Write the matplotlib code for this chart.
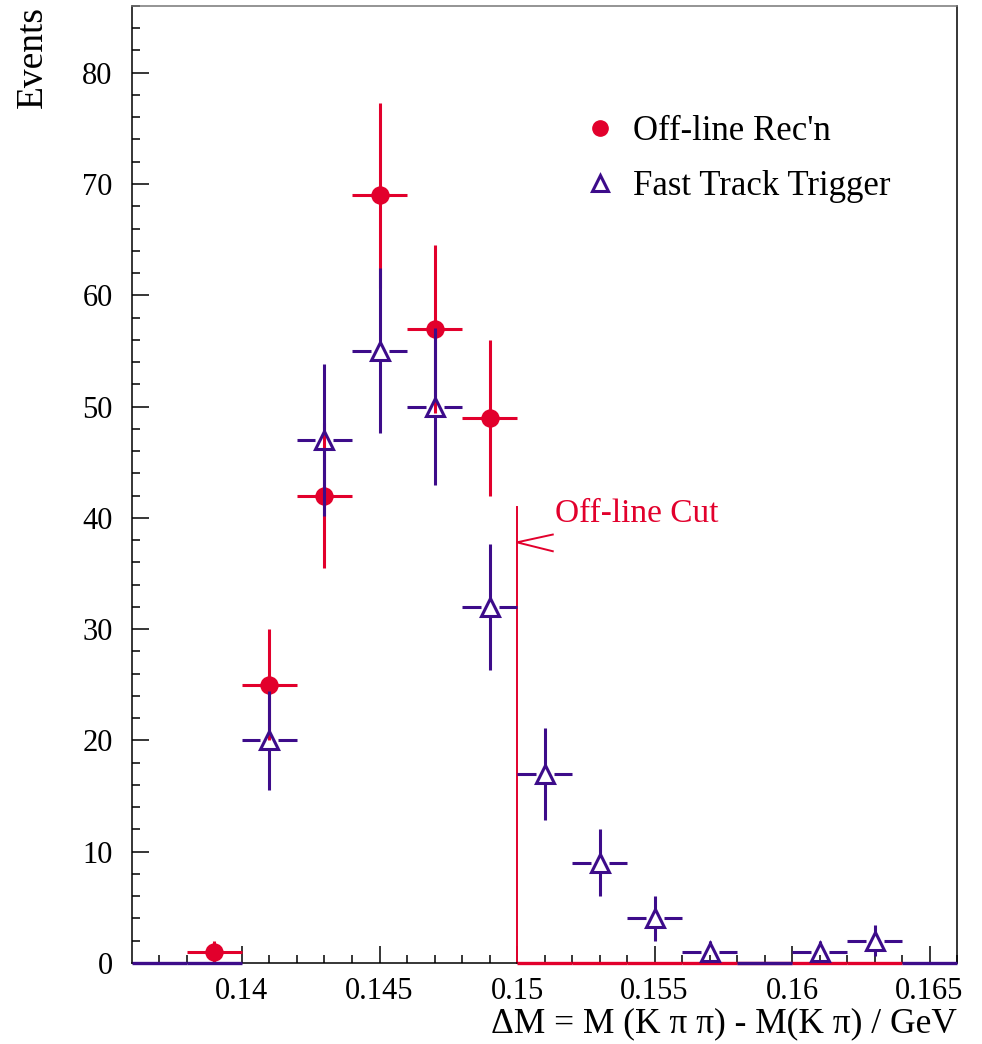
import numpy as np
import matplotlib.pyplot as plt

# bin centres (bin width 0.002 GeV)
bin_centers = [0.137, 0.139, 0.141, 0.143, 0.145, 0.147, 0.149, 0.151,
               0.153, 0.155, 0.157, 0.159, 0.161, 0.163, 0.165]
bin_width = 0.002

# event counts (None = bin not drawn)
offline = [None, 1, 25, 42, 69, 57, 49, 0, 0, 0, 0, 0, 0, 0, None]
ftt = [0, 0, 20, 47, 55, 50, 32, 17, 9, 4, 1, 0, 1, 2, 0]

cut_value = 0.15
cut_height = 41

red = '#e2002c'
purple = '#3d0c8a'

plt.rcParams['font.family'] = ['Liberation Serif', 'DejaVu Serif']

fig = plt.figure(figsize=(9.82, 10.44), dpi=100)
ax = fig.add_axes([0.1344, 0.0776, 0.8402, 0.9167])
xmin, xmax, ymin, ymax = 0.136, 0.166, 0, 86
ax.set_xlim(xmin, xmax)
ax.set_ylim(ymin, ymax)

# pixel -> data conversion for the gaps around hollow markers
ax_w = fig.get_figwidth() * fig.dpi * 0.8402
ax_h = fig.get_figheight() * fig.dpi * 0.9167
dx_px = (xmax - xmin) / ax_w
dy_px = (ymax - ymin) / ax_h


def draw_points(values, color, marker, ms, mfc, gap_px, z):
    for xc, v in zip(bin_centers, values):
        if v is None:
            continue
        lo, hi = xc - bin_width / 2, xc + bin_width / 2
        if v == 0:
            ax.plot([lo, hi], [0, 0], color=color, lw=2.4, zorder=z,
                    clip_on=False, solid_capstyle='butt')
            continue
        err = np.sqrt(v)
        gx = gap_px * dx_px
        gy = gap_px * dy_px
        ax.plot([lo, xc - gx], [v, v], color=color, lw=2.2, zorder=z,
                solid_capstyle='butt')
        ax.plot([xc + gx, hi], [v, v], color=color, lw=2.2, zorder=z,
                solid_capstyle='butt')
        ax.plot([xc, xc], [v - err, v - gy], color=color, lw=2.2, zorder=z,
                solid_capstyle='butt')
        ax.plot([xc, xc], [v + gy, v + err], color=color, lw=2.2, zorder=z,
                solid_capstyle='butt')
        ax.plot([xc], [v], marker=marker, ms=ms, mfc=mfc, mec=color,
                mew=2.2, color=color, zorder=z + 0.5, linestyle='none')


draw_points(offline, red, 'o', 11, red, 0, 3)
draw_points(ftt, purple, '^', 13, 'none', 9, 4)

# off-line cut
ax.plot([cut_value, cut_value], [0, cut_height], color=red, lw=1.4,
        zorder=2, clip_on=False)
ax.plot([cut_value + 0.0013, cut_value, cut_value + 0.0013],
        [38.5, 37.8, 37.0], color=red, lw=1.4, zorder=2)
ax.text(cut_value + 0.00138, 39.6, 'Off-line Cut', color=red, fontsize=24,
        va='baseline', ha='left')

# legend
h1, = ax.plot([], [], marker='o', ms=11, color=red, linestyle='none')
h2, = ax.plot([], [], marker='^', ms=12, mfc='none', mec=purple, mew=2.2,
              linestyle='none')
ax.legend([h1, h2], ["Off-line Rec'n", 'Fast Track Trigger'],
          loc='upper left', bbox_to_anchor=(0.5467, 0.8857), frameon=False,
          fontsize=25, borderpad=0, borderaxespad=0, handlelength=1.0,
          handletextpad=0.43, labelspacing=0.62)

# axes styling, ROOT-like
ax.set_xticks([0.14, 0.145, 0.15, 0.155, 0.16, 0.165])
ax.set_xticklabels(['0.14', '0.145', '0.15', '0.155', '0.16', '0.165'])
ax.set_xticks(np.arange(0.137, 0.1665, 0.001), minor=True)
ax.set_yticks(np.arange(0, 81, 10))
ax.set_yticks(np.arange(0, 87, 2), minor=True)
ax.tick_params(which='both', direction='in', top=False, right=False,
               labelsize=22, width=1.1, color='black')
ax.tick_params(which='major', length=12)
ax.tick_params(which='minor', length=6)
ax.tick_params(axis='x', pad=10)
ax.tick_params(axis='y', pad=14)
for s in ax.spines.values():
    s.set_linewidth(1.1)
ax.spines['top'].set_color('#777777')

ax.set_ylabel('Events', fontsize=27, loc='top')
ax.yaxis.set_label_coords(-0.099, 1.0)
ax.set_xlabel('ΔM = M (K π π) - M(K π) / GeV', fontsize=25.5, loc='right')
ax.xaxis.set_label_coords(1.0, -0.046)

fig.savefig('out.png', dpi=100)
